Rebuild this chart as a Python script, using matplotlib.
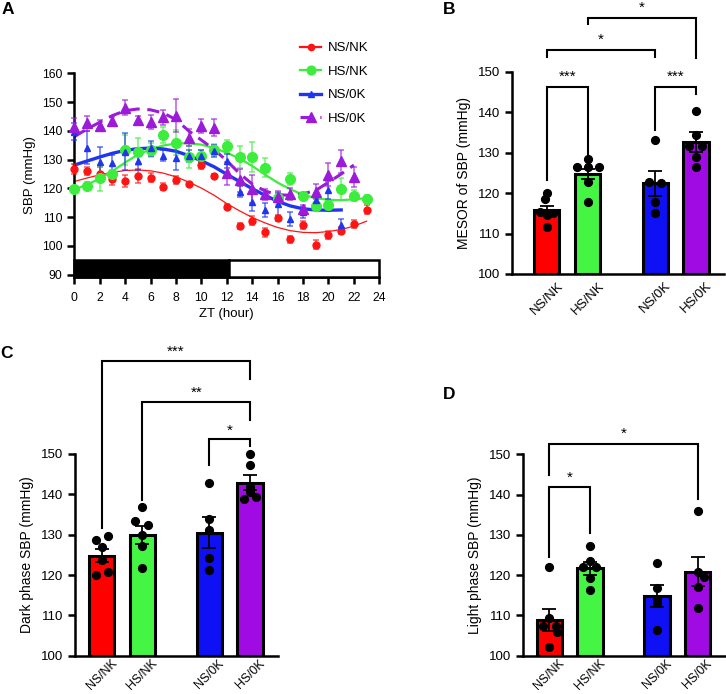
import numpy as np
import matplotlib
matplotlib.use("Agg")
import matplotlib.pyplot as plt
from matplotlib.lines import Line2D
from matplotlib.patches import Rectangle

plt.rcParams['font.family'] = ['Liberation Sans', 'DejaVu Sans']

# ---------------- Panel A data ----------------
groups = ["NS/NK", "HS/NK", "NS/0K", "HS/0K"]
zt_red = list(range(24))
red_mean = [126.7, 126.0, 124.9, 123.3, 122.6, 124.4, 123.7, 120.6, 122.9, 121.4, 128.1, 124.4,
            113.6, 107.0, 108.8, 104.7, 109.8, 102.3, 107.3, 100.4, 103.8, 105.3, 107.6, 112.6]
red_sem = [1.6, 1.5, 2.5, 2.0, 2.0, 2.5, 1.5, 1.3, 1.3, 0.5, 1.2, 0.5,
           0.8, 1.0, 1.5, 1.5, 1.0, 1.3, 1.5, 1.5, 1.3, 1.3, 1.5, 1.5]
red_fit = [122.4, 123.6, 124.7, 125.6, 126.2, 126.4, 126.1, 125.3, 124.0, 122.2, 120.1, 117.6,
           114.7, 112.2, 109.9, 108.0, 106.4, 105.3, 104.7, 104.6, 105.0, 105.7, 106.9, 108.6]

zt_green = list(range(24))
green_mean = [119.8, 120.8, 123.5, 124.9, 133.3, 132.8, 133.3, 138.5, 135.9, 131.0, 131.3, 133.3,
              134.8, 131.0, 130.8, 127.2, 116.6, 123.2, 117.4, 113.9, 114.2, 119.8, 117.5, 116.3]
green_sem = [0.8, 1.5, 4.3, 1.5, 5.2, 4.7, 2.5, 2.9, 4.3, 3.9, 2.0, 2.0,
             2.0, 3.8, 5.2, 3.4, 2.3, 2.0, 1.5, 1.5, 1.5, 3.8, 2.0, 1.5]
green_fit = [119.6, 121.3, 123.4, 126.0, 129.0, 131.7, 133.6, 134.9, 135.6, 135.7, 135.2, 134.0,
             132.4, 130.4, 127.8, 124.8, 122.0, 119.7, 117.8, 116.6, 116.0, 115.9, 116.2, 116.6]

zt_blue = list(range(22))
blue_mean = [139.7, 134.2, 129.3, 128.7, 132.8, 129.5, 133.9, 131.4, 130.4, 131.2, 131.2, 133.0,
             129.5, 118.9, 115.1, 112.5, 114.5, 109.4, 111.7, 115.9, 119.4, 107.3]
blue_sem = [3.0, 5.8, 5.0, 3.0, 6.5, 3.0, 2.5, 2.0, 4.0, 2.0, 2.0, 2.0,
            2.5, 2.0, 3.0, 2.5, 4.0, 2.5, 2.0, 2.5, 3.0, 2.0]
blue_fit = [128.1, 129.5, 130.9, 132.2, 133.2, 133.8, 134.0, 133.7, 132.9, 131.4, 129.6, 127.5,
            124.9, 122.4, 119.9, 117.6, 115.5, 113.9, 112.9, 112.5, 112.4, 112.5]

zt_purple = list(range(23))
purple_mean = [141.5, 142.6, 141.8, 143.4, 148.1, 143.8, 143.0, 144.7, 145.3, 137.6, 141.7, 141.1,
               125.2, 122.9, 119.8, 117.9, 117.1, 118.0, 112.7, 118.9, 124.7, 129.5, 124.1]
purple_sem = [3.0, 2.5, 2.0, 1.5, 2.5, 1.5, 2.5, 2.5, 5.8, 3.0, 2.5, 3.0,
              4.0, 4.0, 5.0, 2.0, 2.0, 2.0, 1.5, 2.5, 4.0, 4.0, 3.5]
purple_fit = [138.0, 140.6, 143.0, 145.3, 147.0, 147.6, 147.3, 146.2, 143.9, 140.0, 136.8, 133.5,
              129.6, 125.2, 121.5, 119.1, 117.8, 117.6, 118.1, 119.3, 122.1, 125.0, 128.1]

dark_span = [0, 12.15]
light_span = [12.15, 24]
xticks_A = list(range(0, 25, 2))
yticks_A = list(range(90, 161, 10))

# ---------------- Bar panels data ----------------
bar_labels = ["NS/NK", "HS/NK", "NS/0K", "HS/0K"]

mesor_mean = [115.7, 124.7, 122.4, 132.6]
mesor_sem = [1.2, 1.3, 3.0, 2.4]
mesor_pts = [[120.0, 118.5, 115.3, 115.0, 114.5, 111.5],
             [128.3, 126.4, 126.4, 126.4, 122.8, 117.9],
             [133.0, 122.8, 122.5, 117.7, 115.2],
             [140.4, 134.3, 131.7, 131.6, 129.0, 126.4]]

dark_mean = [124.8, 129.9, 130.5, 142.9]
dark_sem = [1.6, 2.2, 3.9, 1.9]
dark_pts = [[128.8, 129.7, 127.0, 123.7, 120.0, 120.7],
            [136.9, 133.4, 132.3, 129.8, 127.3, 121.7],
            [142.7, 133.8, 131.2, 124.1, 121.2],
            [149.9, 147.3, 141.7, 140.5, 138.8, 139.4]]

light_mean = [108.9, 121.7, 114.8, 120.9]
light_sem = [2.8, 1.6, 2.7, 3.5]
light_pts = [[121.9, 109.4, 107.4, 107.4, 105.8, 102.1],
             [127.2, 123.6, 121.9, 121.9, 119.2, 116.3],
             [122.9, 116.7, 114.2, 113.0, 106.4],
             [135.9, 120.9, 119.5, 117.1, 111.8]]

# significance: (group i, group j, bracket top, left leg bottom, right leg bottom, label, label centre)
sig_B = [(0, 1, 146.3, 123.2, 129.0, "***", 150.0),
         (2, 3, 146.3, 135.6, 144.6, "***", 150.0),
         (0, 2, 155.4, 153.7, 153.7, "*", 159.1),
         (1, 3, 163.2, 161.8, 153.3, "*", 166.9)]
sig_C = [(2, 3, 153.6, 147.3, 152.0, "*", 157.0),
         (1, 3, 163.0, 138.6, 158.4, "**", 166.3),
         (0, 3, 173.1, 131.6, 168.5, "***", 176.6)]
sig_D = [(0, 1, 142.0, 124.6, 130.4, "*", 145.4),
         (0, 3, 152.6, 144.9, 138.8, "*", 156.2)]

# ---------------- layout / style ----------------
W, H = 726, 694
fig = plt.figure(figsize=(W / 100, H / 100), dpi=100)

def px_axes(x0, y0, x1, y1):
    return fig.add_axes([x0 / W, 1 - y1 / H, (x1 - x0) / W, (y1 - y0) / H])

bar_pos = [0, 1, 2.65, 3.65]
jitter = {
    'B': [[0, -0.04, -0.16, 0.16, 0, 0], [0, -0.27, 0, 0.27, 0, 0], [0, -0.15, 0.15, 0, 0], [0, 0, -0.18, 0.15, 0, 0]],
    'C': [[-0.14, 0.15, 0, 0, -0.14, 0.15], [0, -0.18, 0.15, 0, 0, 0], [0, 0, 0, 0, 0], [0, 0, 0, 0, -0.15, 0.15]],
    'D': [[0, 0, -0.15, 0.17, 0.18, 0], [0, 0, -0.16, 0.16, 0, 0], [0, 0, 0, 0, 0], [0, 0, 0.15, 0, 0]],
}
bar_colors = ['#ff0000', '#44f544', '#1010f5', '#a10be3']
line_colors = ['#ff1414', '#3ded3d', '#2035ee', '#9b1bd8']

def style_axes(ax, lw=1.8):
    for s in ['top', 'right']:
        ax.spines[s].set_visible(False)
    for s in ['left', 'bottom']:
        ax.spines[s].set_linewidth(lw)
    ax.tick_params(width=lw, length=5, direction='out', colors='black')

# ---------------- Panel A ----------------
axA = px_axes(74.3, 73.3, 379.3, 276.7)
style_axes(axA, 1.8)
axA.set_xlim(0, 24)
axA.set_ylim(89.3, 160)

series = [
    (zt_red, red_mean, red_sem, red_fit, 'o', 5.0, 0.9, '-'),
    (zt_green, green_mean, green_sem, green_fit, 'o', 7.0, 1.6, '-'),
    (zt_blue, blue_mean, blue_sem, blue_fit, '^', 5.0, 2.4, '-'),
    (zt_purple, purple_mean, purple_sem, purple_fit, '^', 7.5, 2.2, (0, (4, 2.5))),
]
handles = []
for k, (x, m, e, f, mk, ms, lw, ls) in enumerate(series):
    c = line_colors[k]
    axA.plot(x, f, color=c, lw=lw, ls=ls, zorder=2, clip_on=False)
    cont = axA.errorbar(x, m, yerr=e, fmt='none', ecolor=c, elinewidth=1.3,
                        capsize=2.5, capthick=1.3, zorder=3, clip_on=False)
    for cl in cont[1]:
        cl.set_alpha(0.6)
    for bl in cont[2]:
        bl.set_alpha(0.6)
    axA.plot(x, m, mk, color=c, ms=ms, mec=c, zorder=4, clip_on=False)
    handles.append(Line2D([0], [0], color=c, lw=max(lw, 1.6), ls=ls, marker=mk, ms=ms * 0.9, mec=c))

axA.add_patch(Rectangle((dark_span[0], 89.3), dark_span[1] - dark_span[0], 5.7, facecolor='black',
                        edgecolor='black', lw=1.8, zorder=4, clip_on=False))
axA.add_patch(Rectangle((light_span[0], 89.3), light_span[1] - light_span[0], 5.7, facecolor='white',
                        edgecolor='black', lw=1.8, zorder=4, clip_on=False))
axA.set_xticks(xticks_A)
axA.set_yticks(yticks_A)
axA.tick_params(labelsize=8.7)
axA.tick_params(axis='x', pad=6)
axA.set_xlabel("ZT (hour)", fontsize=9.5, labelpad=3)
axA.set_ylabel("SBP (mmHg)", fontsize=9.5, labelpad=4)
axA.legend(handles, groups, loc='upper left', bbox_to_anchor=(300 / W, 1 - 42 / H),
           bbox_transform=fig.transFigure, frameon=False, fontsize=9.5, handlelength=1.6,
           handletextpad=0.55, labelspacing=0.85, borderpad=0, borderaxespad=0, numpoints=1)

# ---------------- Bar panels ----------------
def bar_panel(ax, means, sems, pts, jit, sigs, ylabel, xlim, xpad, xfs):
    style_axes(ax, 1.8)
    ax.set_xlim(*xlim)
    ax.set_ylim(100, 150)
    ax.bar(bar_pos, [m - 100 for m in means], bottom=100, width=0.62, color=bar_colors,
           edgecolor='black', linewidth=2.2, zorder=2)
    ax.errorbar(bar_pos, means, yerr=sems, fmt='none', ecolor='black', elinewidth=1.3,
                capsize=5, capthick=1.3, zorder=3)
    for i, vals in enumerate(pts):
        xs = [bar_pos[i] + j for j in jit[i]]
        ax.plot(xs, vals, 'o', color='black', ms=5.6, zorder=4, clip_on=False)
    ax.set_yticks([100, 110, 120, 130, 140, 150])
    ax.set_xticks(bar_pos)
    ax.set_xticklabels(bar_labels, rotation=45, ha='center', va='top')
    ax.tick_params(labelsize=9.5)
    ax.tick_params(axis='x', length=0, pad=xpad, labelsize=xfs)
    ax.set_ylabel(ylabel, fontsize=10, labelpad=5)
    for (i, j, top, lb, rb, lab, lc) in sigs:
        xi, xj = bar_pos[i], bar_pos[j]
        ax.plot([xi, xi, xj, xj], [lb, top, top, rb], color='black', lw=1.5,
                solid_joinstyle='miter', clip_on=False, zorder=5)
        ax.text((xi + xj) / 2, lc - 2.2, lab, ha='center', va='baseline', fontsize=11,
                clip_on=False)

axB = px_axes(511.7, 71.7, 724, 274)
bar_panel(axB, mesor_mean, mesor_sem, mesor_pts, jitter['B'], sig_B, "MESOR of SBP (mmHg)", (-0.856, 4.33), 4, 9.5)

axC = px_axes(75, 454, 278, 655.7)
bar_panel(axC, dark_mean, dark_sem, dark_pts, jitter['C'], sig_C, "Dark phase SBP (mmHg)", (-0.66, 4.34), 1, 8.8)

axD = px_axes(522.7, 454.3, 725, 655.7)
bar_panel(axD, light_mean, light_sem, light_pts, jitter['D'], sig_D, "Light phase SBP (mmHg)", (-0.654, 4.32), 1, 8.8)

# panel letters
for lab, x, y in [("A", 2, 2), ("B", 443, 2), ("C", 0, 346), ("D", 443, 387)]:
    fig.text(x / W, 1 - y / H, lab, fontsize=12.5, fontweight='bold', ha='left', va='top')

fig.savefig("out.png", dpi=100)
